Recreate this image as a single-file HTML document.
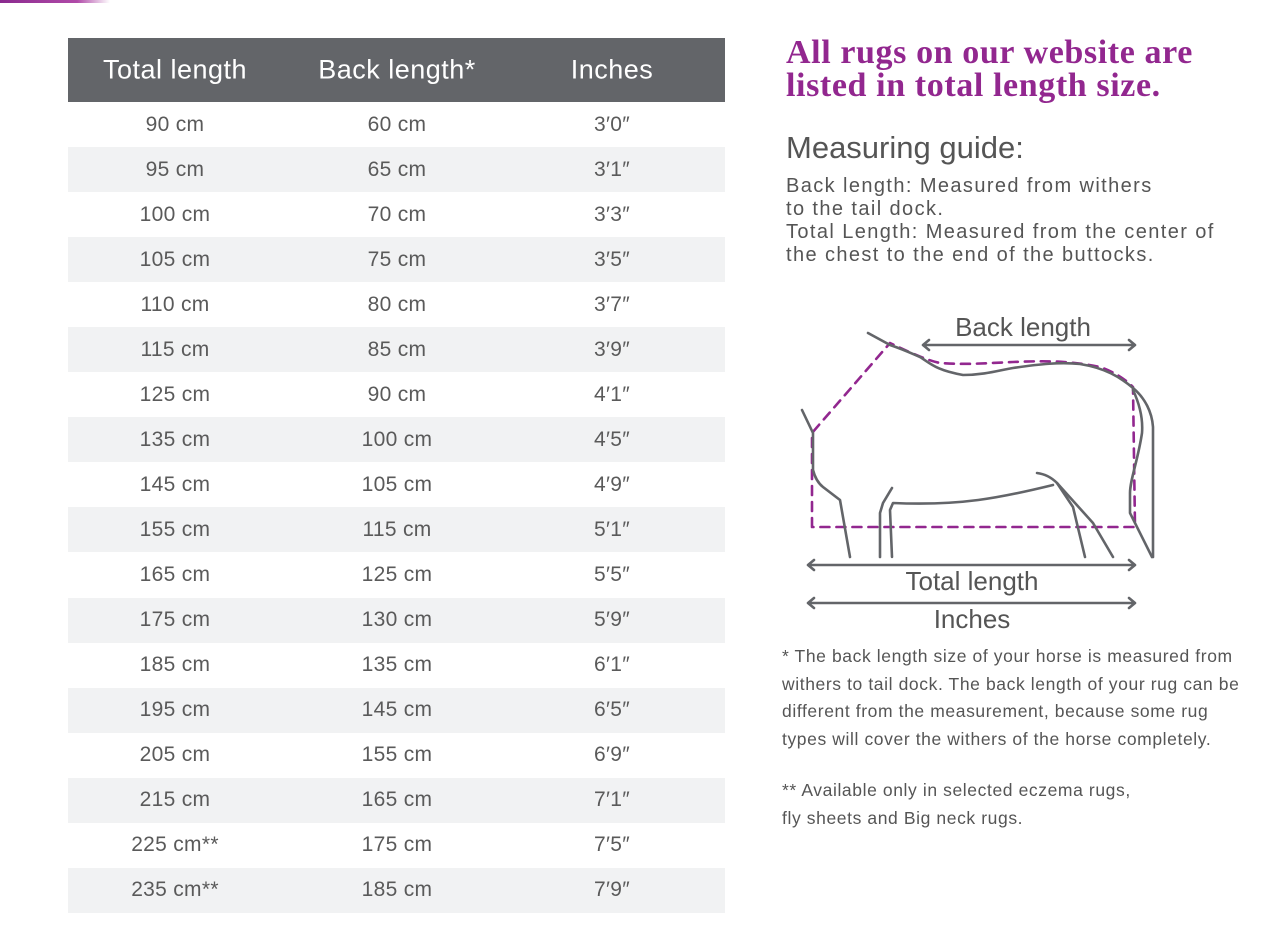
<!DOCTYPE html>
<html><head><meta charset="utf-8"><style>
body{margin:0;width:1270px;height:928px;background:#fff;position:relative;overflow:hidden;font-family:"Liberation Sans",sans-serif;color:#555}
.t{position:absolute;left:68px;top:38px;width:657px}
.h{height:64px;background:#636569;color:#fff;font-size:27px;letter-spacing:0.5px;position:relative}
.r{height:45.05px;position:relative;font-size:21px;letter-spacing:0.3px;color:#5a5a5a}
.r:nth-child(even){background:#f1f2f3}
.c{position:absolute;top:50%;transform:translate(-50%,-50%);white-space:nowrap}
.a{left:107px}.b{left:329px}.d{left:544px}
.p{position:absolute;white-space:nowrap}
</style></head><body>
<div style="position:absolute;left:0;top:0;width:110px;height:3px;background:linear-gradient(90deg,#8a2a8e,#b04aa8 70%,rgba(200,120,200,0))"></div>
<div class="t">
<div class="h"><span class="c a">Total length</span><span class="c b">Back length*</span><span class="c d">Inches</span></div>
<div>
<div class="r"><span class="c a">90 cm</span><span class="c b">60 cm</span><span class="c d">3′0″</span></div>
<div class="r"><span class="c a">95 cm</span><span class="c b">65 cm</span><span class="c d">3′1″</span></div>
<div class="r"><span class="c a">100 cm</span><span class="c b">70 cm</span><span class="c d">3′3″</span></div>
<div class="r"><span class="c a">105 cm</span><span class="c b">75 cm</span><span class="c d">3′5″</span></div>
<div class="r"><span class="c a">110 cm</span><span class="c b">80 cm</span><span class="c d">3′7″</span></div>
<div class="r"><span class="c a">115 cm</span><span class="c b">85 cm</span><span class="c d">3′9″</span></div>
<div class="r"><span class="c a">125 cm</span><span class="c b">90 cm</span><span class="c d">4′1″</span></div>
<div class="r"><span class="c a">135 cm</span><span class="c b">100 cm</span><span class="c d">4′5″</span></div>
<div class="r"><span class="c a">145 cm</span><span class="c b">105 cm</span><span class="c d">4′9″</span></div>
<div class="r"><span class="c a">155 cm</span><span class="c b">115 cm</span><span class="c d">5′1″</span></div>
<div class="r"><span class="c a">165 cm</span><span class="c b">125 cm</span><span class="c d">5′5″</span></div>
<div class="r"><span class="c a">175 cm</span><span class="c b">130 cm</span><span class="c d">5′9″</span></div>
<div class="r"><span class="c a">185 cm</span><span class="c b">135 cm</span><span class="c d">6′1″</span></div>
<div class="r"><span class="c a">195 cm</span><span class="c b">145 cm</span><span class="c d">6′5″</span></div>
<div class="r"><span class="c a">205 cm</span><span class="c b">155 cm</span><span class="c d">6′9″</span></div>
<div class="r"><span class="c a">215 cm</span><span class="c b">165 cm</span><span class="c d">7′1″</span></div>
<div class="r"><span class="c a">225 cm**</span><span class="c b">175 cm</span><span class="c d">7′5″</span></div>
<div class="r"><span class="c a">235 cm**</span><span class="c b">185 cm</span><span class="c d">7′9″</span></div>
</div></div>
<div class="p" style="left:786px;top:36px;font-family:'Liberation Serif',serif;font-weight:bold;font-size:34px;letter-spacing:0.6px;line-height:33px;color:#92278f">All rugs on our website are<br>listed in total length size.</div>
<div class="p" style="left:786px;top:130px;font-size:31px;color:#555">Measuring guide:</div>
<div class="p" style="left:786px;top:175px;font-size:20px;letter-spacing:1.4px;line-height:23px;color:#555">Back length: Measured from withers<br>to the tail dock.<br>Total Length: Measured from the center of<br>the chest to the end of the buttocks.</div>
<svg style="position:absolute;left:0;top:0" width="1270" height="928" fill="none" stroke-linecap="round" stroke-linejoin="round">
<g stroke="#92278f" stroke-width="2.6" stroke-dasharray="9,7">
<path d="M812 527 L812 433 L890 343 C905 350 925 360 940 363 C965 365 990 363 1013 362 C1040 361 1067 360 1100 367 Q1120 374 1133 387 L1135 527 Z"/>
</g>
<g stroke="#636569" stroke-width="2.6">
<path d="M868 333 L890 345 C905 350 915 355 920 357 C930 363 935 370 963 375 C985 375 1000 370 1013 368 C1040 364 1060 362 1080 364 C1105 368 1120 377 1133 388"/>
<path d="M1133 388 C1145 398 1152 412 1153 427 L1153 557"/>
<path d="M1133 390 C1140 405 1143 420 1142 433 C1138 460 1130 480 1130 493 L1130 513 L1152 557"/>
<path d="M802 410 L813 433 L813 470 C815 478 818 483 823 487 L840 500 L850 557"/>
<path d="M880 557 L880 513 L883 503 L892 488"/>
<path d="M892 557 L890 510 L893 503 C960 506 1000 498 1053 485"/>
<path d="M1037 473 C1045 474 1052 478 1057 483 L1073 507 L1085 557"/>
<path d="M1057 483 L1093 523 L1113 557"/>
<path d="M923 345 L1135 345 M929 340 L923 345 L929 350 M1129 340 L1135 345 L1129 350"/>
<path d="M808 565 L1135 565 M814 560 L808 565 L814 570 M1129 560 L1135 565 L1129 570"/>
<path d="M808 603 L1135 603 M814 598 L808 603 L814 608 M1129 598 L1135 603 L1129 608"/>
</g>
<g fill="#555" font-family="Liberation Sans,sans-serif" font-size="26" text-anchor="middle">
<text x="1023" y="336">Back length</text>
<text x="972" y="590">Total length</text>
<text x="972" y="628">Inches</text>
</g>
</svg>
<div class="p" style="left:782px;top:643px;font-size:17.5px;letter-spacing:0.6px;line-height:27.5px;color:#555">* The back length size of your horse is measured from<br>withers to tail dock. The back length of your rug can be<br>different from the measurement, because some rug<br>types will cover the withers of the horse completely.</div>
<div class="p" style="left:782px;top:777px;font-size:17.5px;letter-spacing:0.6px;line-height:27.5px;color:#555">** Available only in selected eczema rugs,<br>fly sheets and Big neck rugs.</div>
</body></html>
